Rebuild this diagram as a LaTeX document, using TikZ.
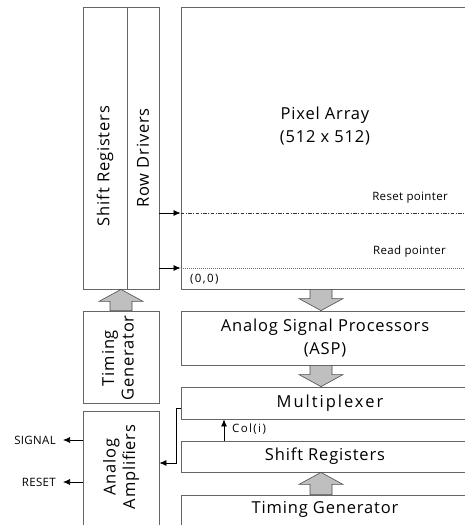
\documentclass[tikz,border=0pt]{standalone}
\usepackage{fontspec}
\setmainfont{Open Sans}
\usetikzlibrary{calc,arrows.meta}
\definecolor{boxc}{gray}{0.4}
\definecolor{arrg}{gray}{0.75}
\newcommand\blockarrow[2]{%
  \filldraw[blk] let \p1=(#1), \p2=(#2), \p3=($(#2)!12pt!(#1)$) in
    (\x1-11pt,\y1) -- (\x1-11pt,\y3) -- (\x1-22pt,\y3) -- (\x2,\y2) --
    (\x1+22pt,\y3) -- (\x1+11pt,\y3) -- (\x1+11pt,\y1) -- cycle;}
\begin{document}
\begin{tikzpicture}[x=1pt,y=-1pt,
  box/.style={draw=boxc, line width=0.8pt, inner sep=0pt, fill=white},
  big/.style={font=\fontsize{16.5}{23}\selectfont\addfontfeatures{LetterSpace=5}, align=center, inner sep=0pt},
  wide/.style={font=\fontsize{16.5}{23}\selectfont\addfontfeatures{LetterSpace=12}, align=center, inner sep=0pt},
  rot/.style={font=\fontsize{16.5}{19.5}\selectfont\addfontfeatures{LetterSpace=5}, align=center, inner sep=0pt, rotate=90},
  small/.style={font=\fontsize{11.5}{13}\selectfont\addfontfeatures{LetterSpace=3}, inner sep=0pt},
  smallw/.style={font=\fontsize{11.5}{13}\selectfont\addfontfeatures{LetterSpace=12}, inner sep=0pt},
  blk/.style={fill=arrg, draw=black!70, line width=0.6pt},
  sig/.style={-{Latex[length=7pt,width=6pt]}, line width=0.7pt}]
\useasboundingbox (0,0) rectangle (465,525);
\clip (0,0) rectangle (465,525);
% boxes
\node[box, minimum width=44, minimum height=282] (sr) at (105,148) {};
\node[box, minimum width=32, minimum height=282] (rd) at (143,148) {};
\node[box, minimum width=288, minimum height=282] (pa) at (325,148) {};
\node[box, minimum width=76, minimum height=92] (tg1) at (121,357) {};
\node[box, minimum width=76, minimum height=134] (aa) at (121,478) {};
\node[box, minimum width=288, minimum height=54, big] (asp) at (325,338) {Analog Signal Processors\\(ASP)};
\node[box, minimum width=288, minimum height=32] (mux) at (325,403) {};
\node[box, minimum width=288, minimum height=31, big] (sreg) at (325,456.5) {Shift Registers};
\node[box, minimum width=288, minimum height=50] (tg2) at (325,520) {};
% texts
\node[wide] (tmux) at (330,403) {Multiplexer};
\node[rot] (tsr) at (105,166) {Shift Registers};
\node[rot] (trd) at (143,158) {Row Drivers};
\node[rot] (ttg1) at (118,358) {Timing\\Generator};
\node[rot] (taa) at (121,467) {Analog\\Amplifiers};
\node[big] (tpa) at (325,126) {Pixel Array\\(512 x 512)};
\node[big] (ttg2) at (325,509) {Timing Generator};
% helper coordinates
\coordinate (yR) at (0,213);
\coordinate (yD) at (0,268);
\coordinate (yM) at (0,408);
\coordinate (yA) at (0,463);
\coordinate (yS) at (0,440);
\coordinate (yT) at (0,482);
\coordinate (xC) at (224,0);
\coordinate (xL) at (176,0);
\coordinate (xA) at (321,0);
% pointers
\draw[black!80, line width=0.6pt, dash pattern=on 3.5pt off 1.5pt on 1pt off 1.5pt] (pa.west |- yR) -- (pa.east |- yR);
\draw[black!55, line width=0.6pt, dash pattern=on 1pt off 1pt] (pa.west |- yD) -- (pa.east |- yD);
\draw[sig] (rd.east |- yR) -- (pa.west |- yR);
\draw[sig] (rd.east |- yD) -- (pa.west |- yD);
\node[small, anchor=east] (lrs) at (448,198) {Reset pointer};
\node[small, anchor=east] (lrd) at (446,252) {Read pointer};
\node[smallw, anchor=west] (l00) at (190,279) {(0,0)};
% column select
\draw[sig] (sreg.north -| xC) -- (mux.south -| xC);
\node[smallw, anchor=west] (lcol) at (232,429) {Col(i)};
% mux to amplifiers
\draw[sig] (mux.west |- yM) -- (xL |- yM) -- (xL |- yA) -- (aa.east |- yA);
% outputs
\coordinate (sigend) at (63,440);
\coordinate (rstend) at (63,482);
\draw[sig] (aa.west |- yS) -- (sigend);
\draw[sig] (aa.west |- yT) -- (rstend);
\node[small, anchor=east] (lsig) at (56,440) {SIGNAL};
\node[small, anchor=east] (lrst) at (56,482) {RESET};
% block arrows
\blockarrow{pa.south -| xA}{asp.north -| xA}
\blockarrow{asp.south -| xA}{mux.north -| xA}
\blockarrow{tg2.north -| xA}{sreg.south -| xA}
\blockarrow{tg1.north}{tg1.north |- sr.south}
\end{tikzpicture}
\end{document}
